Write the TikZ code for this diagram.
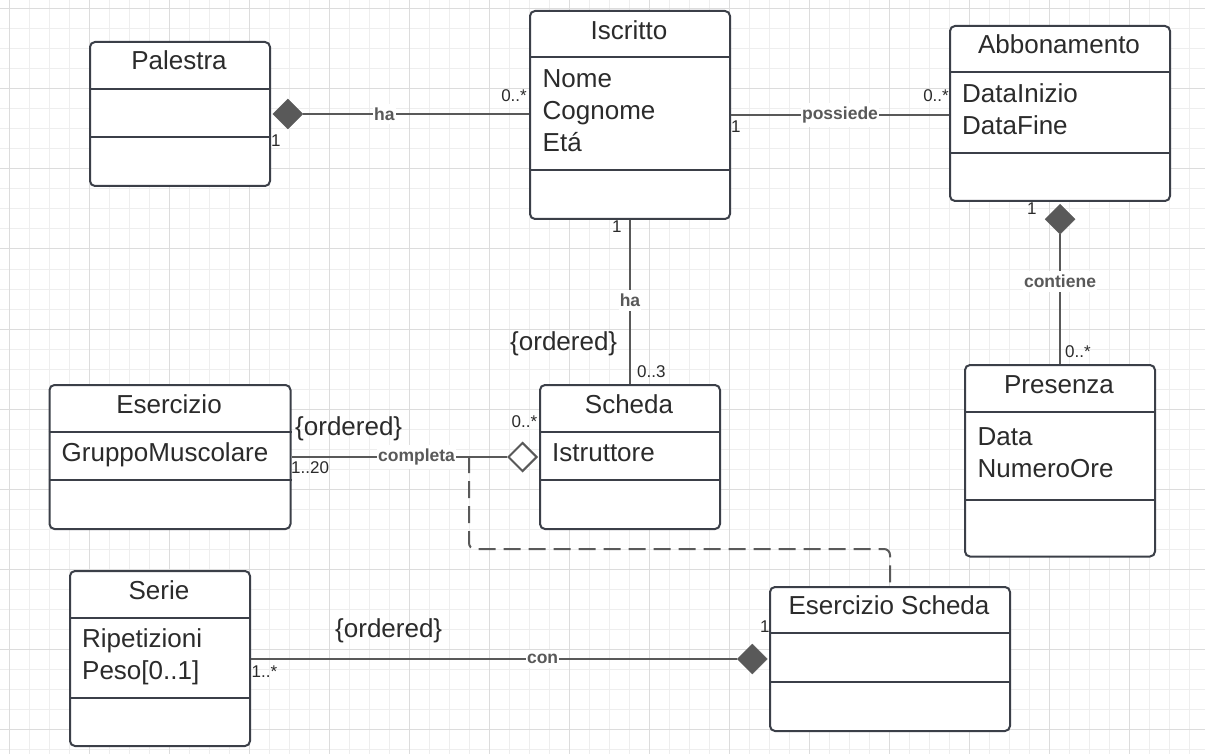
\documentclass[tikz,border=0pt]{standalone}
\usepackage{fontspec}
\setmainfont{Liberation Sans}
\usepackage{tikz}
\usetikzlibrary{positioning,shapes.geometric}

\definecolor{boxline}{HTML}{3B3F48}
\definecolor{connline}{HTML}{595959}
\definecolor{txt}{HTML}{2B2B2B}
\definecolor{gridminor}{HTML}{EEEEEE}
\definecolor{gridmajor}{HTML}{DCDCDC}

\tikzset{
  umlclass/.style={draw=boxline, line width=2pt, rounded corners=5pt, fill=white, inner sep=0pt, anchor=north west},
  divider/.style={draw=boxline, line width=2pt},
  title/.style={font=\fontsize{26}{30}\selectfont, text=txt, anchor=base, inner sep=0pt},
  attr/.style={font=\fontsize{26}{30}\selectfont, text=txt, anchor=base west, inner sep=0pt},
  assoc/.style={draw=connline, line width=2pt},
  dashlink/.style={draw=connline, line width=2pt, dash pattern=on 17pt off 8pt, rounded corners=6pt},
  rel/.style={font=\bfseries\fontsize{17.5}{20}\selectfont, text=connline, fill=white, inner xsep=1pt, inner ysep=4pt},
  mult/.style={font=\fontsize{17}{20}\selectfont, text=txt, inner sep=0pt},
  constraint/.style={font=\fontsize{26}{30}\selectfont, text=txt, anchor=base west, inner sep=0pt},
  composition/.style={diamond, fill=connline, draw=connline, line width=0.5pt, minimum width=30pt, minimum height=30pt, inner sep=0pt},
  aggregation/.style={diamond, fill=white, draw=connline, line width=2pt, minimum width=29pt, minimum height=29pt, inner sep=0pt}
}

\begin{document}
\begin{tikzpicture}[x=1pt, y=-1pt]
\useasboundingbox (0,0) rectangle (1205,754);
\fill[white] (0,0) rectangle (1205,754);
\foreach \gx in {9,29,...,1205} \draw[gridminor, line width=1pt] (\gx,0) -- (\gx,754);
\foreach \gy in {9,29,...,754} \draw[gridminor, line width=1pt] (0,\gy) -- (1205,\gy);
\foreach \gx in {9,89,...,1205} \draw[gridmajor, line width=1pt] (\gx,0) -- (\gx,754);
\foreach \gy in {9,89,...,754} \draw[gridmajor, line width=1pt] (0,\gy) -- (1205,\gy);

\node[umlclass, minimum width=180pt, minimum height=144pt] (palestra) at (89,41) {};
\draw[divider] ([yshift=-48pt]palestra.north west) -- ([yshift=-48pt]palestra.north east);
\draw[divider] ([yshift=-96pt]palestra.north west) -- ([yshift=-96pt]palestra.north east);
\node[title] (palestraT) at (179,70) {Palestra};

\node[umlclass, minimum width=200pt, minimum height=208pt] (iscritto) at (529,10) {};
\draw[divider] ([yshift=-47.5pt]iscritto.north west) -- ([yshift=-47.5pt]iscritto.north east);
\draw[divider] ([yshift=-160pt]iscritto.north west) -- ([yshift=-160pt]iscritto.north east);
\node[title] (iscrittoT) at (629,39.5) {Iscritto};
\node[attr] (iscrittoA1) at (542.5,87.5) {Nome};
\node[attr] (iscrittoA2) at (542.5,119.5) {Cognome};
\node[attr] (iscrittoA3) at (542.5,151.5) {Etá};

\node[umlclass, minimum width=220pt, minimum height=175pt] (abbonamento) at (949,25) {};
\draw[divider] ([yshift=-47pt]abbonamento.north west) -- ([yshift=-47pt]abbonamento.north east);
\draw[divider] ([yshift=-128pt]abbonamento.north west) -- ([yshift=-128pt]abbonamento.north east);
\node[title] (abbonamentoT) at (1059,54) {Abbonamento};
\node[attr] (abbonamentoA1) at (962,103) {DataInizio};
\node[attr] (abbonamentoA2) at (962,135) {DataFine};

\node[umlclass, minimum width=241pt, minimum height=144pt] (esercizio) at (48.5,384) {};
\draw[divider] ([yshift=-47.5pt]esercizio.north west) -- ([yshift=-47.5pt]esercizio.north east);
\draw[divider] ([yshift=-95.5pt]esercizio.north west) -- ([yshift=-95.5pt]esercizio.north east);
\node[title] (esercizioT) at (169,413.5) {Esercizio};
\node[attr] (esercizioA1) at (61.5,461) {GruppoMuscolare};

\node[umlclass, minimum width=180pt, minimum height=144pt] (scheda) at (539,384) {};
\draw[divider] ([yshift=-48pt]scheda.north west) -- ([yshift=-48pt]scheda.north east);
\draw[divider] ([yshift=-96pt]scheda.north west) -- ([yshift=-96pt]scheda.north east);
\node[title] (schedaT) at (629,413.5) {Scheda};
\node[attr] (schedaA1) at (552,461.5) {Istruttore};

\node[umlclass, minimum width=190pt, minimum height=191.5pt] (presenza) at (964,364) {};
\draw[divider] ([yshift=-47.5pt]presenza.north west) -- ([yshift=-47.5pt]presenza.north east);
\draw[divider] ([yshift=-136pt]presenza.north west) -- ([yshift=-136pt]presenza.north east);
\node[title] (presenzaT) at (1059,393.5) {Presenza};
\node[attr] (presenzaA1) at (977.5,445.5) {Data};
\node[attr] (presenzaA2) at (977.5,477.5) {NumeroOre};

\node[umlclass, minimum width=180pt, minimum height=175pt] (serie) at (69,570) {};
\draw[divider] ([yshift=-48pt]serie.north west) -- ([yshift=-48pt]serie.north east);
\draw[divider] ([yshift=-128pt]serie.north west) -- ([yshift=-128pt]serie.north east);
\node[title] (serieT) at (159,599) {Serie};
\node[attr] (serieA1) at (82,647) {Ripetizioni};
\node[attr] (serieA2) at (82,679) {Peso[0..1]};

\node[umlclass, minimum width=240pt, minimum height=144pt] (eserciziosch) at (769,586) {};
\draw[divider] ([yshift=-47pt]eserciziosch.north west) -- ([yshift=-47pt]eserciziosch.north east);
\draw[divider] ([yshift=-96pt]eserciziosch.north west) -- ([yshift=-96pt]eserciziosch.north east);
\node[title] (eserciziosT) at (889,614.5) {Esercizio Scheda};

\node[composition, anchor=west, xshift=1.5pt] (dPal) at (palestra.east) {};
\draw[assoc] (dPal.east) -- (dPal.east -| iscritto.west) node[rel, pos=0.36] {ha};
\node[mult, anchor=base east] (mPal1) at (527,102) {0..*};
\node[mult, anchor=base west] (mPal2) at (271,147) {1};

\draw[assoc] (iscritto.east) -- (iscritto.east -| abbonamento.west) node[rel, midway] {possiede};
\node[mult, anchor=base west] (mAbb1) at (731,133) {1};
\node[mult, anchor=base east] (mAbb2) at (949,102) {0..*};

\draw[assoc] (iscritto.south) -- (scheda.north) node[rel, pos=0.49] {ha};
\node[mult, anchor=base west] (mSch1) at (612,233) {1};
\node[mult, anchor=base west] (mSch2) at (637,377) {0..3};
\node[constraint] (ordSch) at (510,350) {\{ordered\}};

\node[composition, anchor=north, yshift=-2pt] (dAbb) at (abbonamento.south) {};
\draw[assoc] (dAbb.south) -- (dAbb.south |- presenza.north) node[rel, pos=0.36] {contiene};
\node[mult, anchor=base west] (mPre1) at (1027,215) {1};
\node[mult, anchor=base west] (mPre2) at (1065,357) {0..*};

\node[aggregation, anchor=east, xshift=-1pt] (dSch) at (scheda.west) {};
\draw[assoc] (dSch.west) -- (dSch.west -| esercizio.east) node[rel, pos=0.42] {completa};
\node[mult, anchor=base west] (mEse1) at (511.5,427) {0..*};
\node[mult, anchor=base west] (mEse2) at (291,473) {1..20};
\node[constraint] (ordEse) at (295,435) {\{ordered\}};

\coordinate (splitpt) at (469,456);
\draw[dashlink] (splitpt) |- (eserciziosch.north |- 0,549) -- (eserciziosch.north);

\node[composition, anchor=east, xshift=-1.5pt] (dSer) at (eserciziosch.west) {};
\draw[assoc] (dSer.west) -- (dSer.west -| serie.east) node[rel, pos=0.40] {con};
\node[mult, anchor=base west] (mSer1) at (251.5,677) {1..*};
\node[mult, anchor=base west] (mSer2) at (760,632) {1};
\node[constraint] (ordSer) at (335,637) {\{ordered\}};

\end{tikzpicture}
\end{document}
